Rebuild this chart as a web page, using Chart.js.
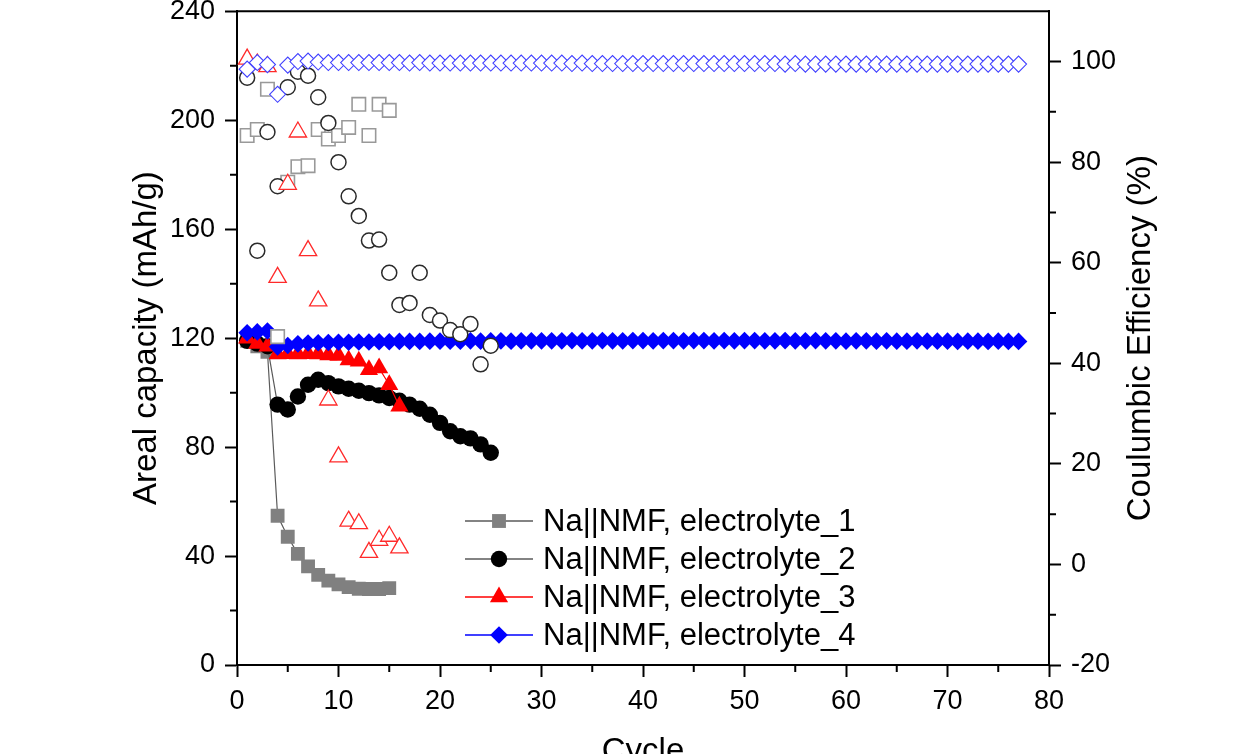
<!DOCTYPE html>
<html>
<head>
<meta charset="utf-8">
<title>Areal capacity and Coulumbic efficiency vs cycle</title>
<script src="https://cdn.jsdelivr.net/npm/chart.js@4.4.1/dist/chart.umd.min.js"></script>
<style>
  html, body { margin: 0; padding: 0; background: #fff; }
  canvas { display: block; }
</style>
</head>
<body>
<canvas id="cycleChart" width="1238" height="754"></canvas>
<script>
var FONT = 'Arial, "Liberation Sans", sans-serif';

var seriesNames = [
    'Na||NMF, electrolyte_1',
    'Na||NMF, electrolyte_2',
    'Na||NMF, electrolyte_3',
    'Na||NMF, electrolyte_4'
];

// areal capacity (left axis), one value per cycle starting at cycle 1
var capacity1 = [119, 117, 115, 54.8, 47.1, 40.8, 36.2, 33.1, 31.0, 29.6, 28.6, 28.0, 27.9, 27.9, 28.2];
var capacity2 = [119, 118, 117, 95.6, 93.8, 98.6, 102.9, 104.7, 103.5, 102.3, 101.4, 100.7, 99.8, 99.0,
                 98.0, 97.0, 95.6, 94.1, 91.9, 88.9, 85.8, 84.0, 83.2, 81.0, 77.9];
var capacity3 = [120, 118, 117, 114.2, 114.3, 114.2, 114.3, 114.2, 113.8, 113.6, 112.0, 111.5, 108.4, 109.0,
                 102.9, 95.0];
var capacity4 = [122, 122.3, 122.6, 116.8, 117.3, 117.9, 118.2, 118.3, 118.4, 118.5,
                 118.5, 118.6, 118.6, 118.7, 118.7, 118.8, 118.8, 118.8, 118.9, 118.9,
                 118.9, 118.9, 119.0, 118.9, 119.0, 119.0, 118.9, 119.0, 119.0, 119.0,
                 119.0, 119.0, 119.1, 119.0, 119.0, 119.1, 119.0, 119.0, 119.1, 119.1,
                 119.0, 119.1, 119.1, 119.0, 119.1, 119.1, 119.0, 119.1, 119.0, 119.1,
                 119.1, 119.0, 119.0, 119.1, 119.0, 119.0, 119.1, 119.0, 119.0, 118.9,
                 119.0, 119.0, 118.9, 119.0, 118.9, 118.9, 119.0, 118.9, 118.9, 118.9,
                 118.8, 118.9, 118.9, 118.8, 118.9, 118.8, 118.8];

// coulumbic efficiency in % (right axis)
var efficiency1 = [85.3, 86.5, 94.5, 45.3, 76.0, 79.1, 79.3, 86.5, 84.6, 85.3, 86.9, 91.5, 85.3, 91.5, 90.3];
var efficiency2 = [96.8, 62.4, 86.0, 75.2, 94.9, 98.0, 97.2, 92.9, 87.8, 80.0, 73.2, 69.3, 64.4, 64.6,
                   58.0, 51.6, 52.0, 58.0, 49.6, 48.5, 46.6, 45.8, 47.8, 39.8, 43.5];
var efficiency3 = [100.5, 99.5, 99.0, 57.1, 75.6, 86.0, 62.4, 52.4, 32.7, 21.4, 8.6, 8.1, 2.4, 4.8, 5.6, 3.3];
var efficiency4 = [98.5, 99.8, 99.4, 93.5, 99.3, 100.0, 100.1, 99.9, 99.8, 99.8,
                   99.8, 99.8, 99.8, 99.8, 99.8, 99.8, 99.7, 99.8, 99.7, 99.7,
                   99.7, 99.7, 99.7, 99.7, 99.7, 99.7, 99.7, 99.7, 99.7, 99.7,
                   99.7, 99.7, 99.6, 99.7, 99.6, 99.6, 99.6, 99.6, 99.6, 99.6,
                   99.6, 99.6, 99.6, 99.6, 99.6, 99.6, 99.6, 99.6, 99.6, 99.6,
                   99.6, 99.6, 99.6, 99.5, 99.6, 99.5, 99.5, 99.5, 99.5, 99.5,
                   99.5, 99.5, 99.5, 99.5, 99.5, 99.5, 99.5, 99.5, 99.5, 99.5,
                   99.5, 99.5, 99.5, 99.5, 99.5, 99.5, 99.5];

// minor tick positions (no labels)
var cycleMinorTicks = [5, 15, 25, 35, 45, 55, 65, 75];
var capacityMinorTicks = [20, 60, 100, 140, 180, 220];
var efficiencyMinorTicks = [-10, 10, 30, 50, 70, 90];

function toPoints(values) {
    return values.map(function (v, i) { return { x: i + 1, y: v }; });
}

// filled markers with lines: capacity
function capacitySet(label, values, shape, radius, fill, line, order) {
    return {
        label: label,
        data: toPoints(values),
        yAxisID: 'y',
        showLine: true,
        borderColor: line,
        borderWidth: 1.2,
        pointStyle: shape,
        pointRadius: radius,
        pointBackgroundColor: fill,
        pointBorderColor: fill,
        pointBorderWidth: 0,
        order: order
    };
}

// open markers without lines: efficiency
function efficiencySet(label, values, shape, radius, edge, edgeWidth, order) {
    return {
        label: label,
        data: toPoints(values),
        yAxisID: 'y2',
        showLine: false,
        pointStyle: shape,
        pointRadius: radius,
        pointBackgroundColor: '#ffffff',
        pointBorderColor: edge,
        pointBorderWidth: edgeWidth,
        order: order
    };
}

var datasets = [
    capacitySet(seriesNames[0], capacity1, 'rect', 9.8, '#808080', '#5a5a5a', 8),
    capacitySet(seriesNames[1], capacity2, 'circle', 8.2, '#000000', '#5a5a5a', 7),
    capacitySet(seriesNames[2], capacity3, 'triangle', 10.5, '#ff0000', '#ff0000', 6),
    capacitySet(seriesNames[3], capacity4, 'rectRot', 8.8, '#0000ff', '#0000ff', 5),
    efficiencySet('CE_1', efficiency1, 'rect', 9.5, '#999999', 1.6, 4),
    efficiencySet('CE_2', efficiency2, 'circle', 7.5, '#2a2a2a', 1.5, 3),
    efficiencySet('CE_3', efficiency3, 'triangle', 10, '#ff2a2a', 1.3, 2),
    efficiencySet('CE_4', efficiency4, 'rectRot', 8, '#4040ff', 1.1, 1)
];

// top edge of the frame, minor ticks and the right axis title
var framePlugin = {
    id: 'frame',
    afterDraw: function (chart) {
        var ctx = chart.ctx, a = chart.chartArea, s = chart.scales;
        ctx.save();
        ctx.strokeStyle = '#000';
        ctx.lineWidth = 2;
        ctx.beginPath();
        ctx.moveTo(a.left - 1, a.top);
        ctx.lineTo(a.right + 1, a.top);
        ctx.stroke();

        ctx.beginPath();
        cycleMinorTicks.forEach(function (v) {
            var px = s.x.getPixelForValue(v);
            ctx.moveTo(px, a.bottom);
            ctx.lineTo(px, a.bottom + 7);
        });
        capacityMinorTicks.forEach(function (v) {
            var py = s.y.getPixelForValue(v);
            ctx.moveTo(a.left, py);
            ctx.lineTo(a.left - 7, py);
        });
        efficiencyMinorTicks.forEach(function (v) {
            var py = s.y2.getPixelForValue(v);
            ctx.moveTo(a.right, py);
            ctx.lineTo(a.right + 7, py);
        });
        ctx.stroke();

        ctx.fillStyle = '#000';
        ctx.font = '33px ' + FONT;
        ctx.textAlign = 'center';
        ctx.textBaseline = 'middle';
        ctx.translate(1141, (a.top + a.bottom) / 2);
        ctx.rotate(-Math.PI / 2);
        ctx.fillText('Coulumbic Efficiency (%)', 0, 0);
        ctx.restore();
    }
};

// legend inside the plot: line with marker, then the label
var legendPlugin = {
    id: 'insideLegend',
    afterDraw: function (chart) {
        var ctx = chart.ctx;
        var left = 465, right = 533, mid = 499, textX = 543, top = 521, step = 38;
        ctx.save();
        for (var i = 0; i < 4; i++) {
            var ds = chart.data.datasets[i];
            var y = top + i * step;
            ctx.strokeStyle = ds.borderColor;
            ctx.lineWidth = 1.5;
            ctx.beginPath();
            ctx.moveTo(left, y);
            ctx.lineTo(right, y);
            ctx.stroke();
            ctx.fillStyle = ds.pointBackgroundColor;
            ctx.strokeStyle = ds.pointBorderColor;
            Chart.helpers.drawPoint(ctx, {
                pointStyle: ds.pointStyle,
                rotation: 0,
                radius: ds.pointRadius,
                borderWidth: 0
            }, mid, y);
            ctx.fillStyle = '#000';
            ctx.font = '31px ' + FONT;
            ctx.textAlign = 'left';
            ctx.textBaseline = 'middle';
            ctx.fillText(ds.label, textX, y + 1);
        }
        ctx.restore();
    }
};

var tickFont = { family: FONT, size: 27 };
var titleFont = { family: FONT, size: 33 };

new Chart(document.getElementById('cycleChart').getContext('2d'), {
    type: 'scatter',
    data: { datasets: datasets },
    options: {
        responsive: false,
        animation: false,
        devicePixelRatio: 1,
        layout: { padding: 0 },
        plugins: {
            legend: { display: false },
            tooltip: { enabled: false }
        },
        scales: {
            x: {
                type: 'linear',
                position: 'bottom',
                min: 0,
                max: 80,
                ticks: { stepSize: 10, color: '#000', font: tickFont, padding: 8, maxRotation: 0 },
                grid: { drawOnChartArea: false, drawTicks: true, tickLength: 12, tickWidth: 2, tickColor: '#000' },
                border: { display: true, color: '#000', width: 2 },
                title: { display: true, text: 'Cycle', color: '#000', font: titleFont, padding: { top: 0, bottom: -18 } },
                afterFit: function (s) { s.height = 89; s.paddingLeft = 0; s.paddingRight = 0; }
            },
            y: {
                type: 'linear',
                position: 'left',
                min: 0,
                max: 240,
                ticks: { stepSize: 40, color: '#000', font: tickFont, padding: 10 },
                grid: { drawOnChartArea: false, drawTicks: true, tickLength: 12, tickWidth: 2, tickColor: '#000' },
                border: { display: true, color: '#000', width: 2 },
                title: { display: true, text: 'Areal capacity (mAh/g)', color: '#000', font: titleFont, padding: { top: 127, bottom: 0 } },
                afterFit: function (s) { s.width = 237; s.paddingTop = 10; s.paddingBottom = 0; }
            },
            y2: {
                type: 'linear',
                position: 'right',
                min: -20,
                max: 110,
                ticks: { stepSize: 20, color: '#000', font: tickFont, padding: 10 },
                afterBuildTicks: function (s) {
                    s.ticks = s.ticks.filter(function (t) { return t.value <= 100; });
                },
                grid: { drawOnChartArea: false, drawTicks: true, tickLength: 12, tickWidth: 2, tickColor: '#000' },
                border: { display: true, color: '#000', width: 2 },
                afterFit: function (s) { s.width = 189; s.paddingTop = 10; s.paddingBottom = 0; }
            }
        }
    },
    plugins: [framePlugin, legendPlugin]
});
</script>
</body>
</html>
